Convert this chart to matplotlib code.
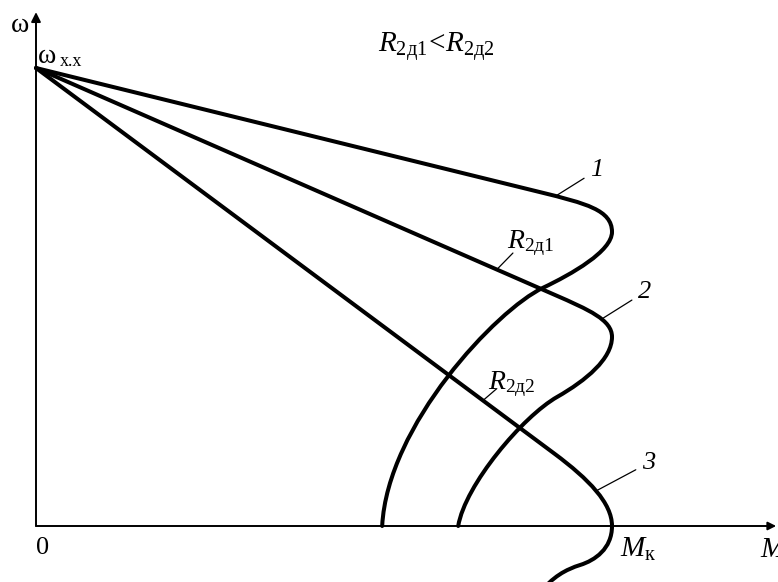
import numpy as np
import matplotlib.pyplot as plt
from matplotlib.path import Path
from matplotlib.patches import PathPatch

plt.rcParams['font.family'] = ['Liberation Serif', 'DejaVu Serif']
plt.rcParams['mathtext.fontset'] = 'custom'
plt.rcParams['mathtext.rm'] = 'Liberation Serif'
plt.rcParams['mathtext.it'] = 'Liberation Serif:italic'

# Относительные единицы: момент в долях M_к, скорость в долях ω_х.х
OMEGA_0 = 1.0
M_K = 1.0

# Характеристика 1 (естественная): прямой участок + изгиб + пусковая часть
curve1 = [(0.0, OMEGA_0), (0.875, 0.729),
          (0.955, 0.7042), (M_K, 0.69), (M_K, 0.642),
          (M_K, 0.60), (0.93, 0.55), (0.880, 0.520),
          (0.80, 0.472), (0.61, 0.22), (0.601, 0.0)]

# Характеристика 2 (R_2д1)
curve2 = [(0.0, OMEGA_0), (0.90, 0.505),
          (0.96, 0.472), (M_K, 0.45), (M_K, 0.413),
          (M_K, 0.365), (0.955, 0.318), (0.905, 0.282),
          (0.845, 0.239), (0.745, 0.09), (0.733, 0.0)]

# Характеристика 3 (R_2д2), M_к при ω = 0 и переход в тормозной режим
curve3 = [(0.0, OMEGA_0), (0.90, 0.158),
          (0.96, 0.1018), (M_K, 0.05), (M_K, 0.0),
          (M_K, -0.05), (0.97, -0.075), (0.945, -0.085),
          (0.92, -0.095), (0.897, -0.11), (0.872, -0.15)]

codes = [Path.MOVETO, Path.LINETO] + [Path.CURVE4] * 9


def bez(pts, i, t):
    # точка на кубическом сегменте, начинающемся с вершины i
    p0, p1, p2, p3 = [np.array(p) for p in pts[i:i + 4]]
    return tuple((1 - t) ** 3 * p0 + 3 * (1 - t) ** 2 * t * p1
                 + 3 * (1 - t) * t ** 2 * p2 + t ** 3 * p3)


fig = plt.figure(figsize=(7.78, 5.82), dpi=100)
ax = fig.add_axes([0, 0, 1, 1])
ax.set_xlim(-36 / 576, 742 / 576)
ax.set_ylim(-56 / 458, 526 / 458)
ax.axis('off')

# оси
ax.annotate('', xy=(0, 1.122), xytext=(0, 0),
            arrowprops=dict(arrowstyle='-|>', lw=1.4, color='k',
                            mutation_scale=14, shrinkA=0, shrinkB=0))
ax.annotate('', xy=(1.285, 0), xytext=(0, 0),
            arrowprops=dict(arrowstyle='-|>', lw=1.4, color='k',
                            mutation_scale=12, shrinkA=0, shrinkB=0))

for c in (curve1, curve2, curve3):
    ax.add_patch(PathPatch(Path(c, codes), fill=False, lw=2.9,
                           edgecolor='k', capstyle='round', joinstyle='round'))

lead = dict(arrowstyle='-', lw=0.9, color='k', shrinkA=3, shrinkB=0)
num = dict(fontsize=19, style='italic', ha='center', va='center')
ax.annotate('1', xy=bez(curve1, 1, 0.12), xytext=(0.974, 0.777),
            arrowprops=lead, **num)
ax.annotate('2', xy=bez(curve2, 1, 0.6), xytext=(1.057, 0.511),
            arrowprops=lead, **num)
ax.annotate('3', xy=bez(curve3, 1, 0.5), xytext=(1.064, 0.138),
            arrowprops=lead, **num)

# подписи сопротивлений на прямых участках
x_r1, x_r2 = 0.800, 0.776
y_r1 = OMEGA_0 + (curve2[1][1] - OMEGA_0) / curve2[1][0] * x_r1
y_r2 = OMEGA_0 + (curve3[1][1] - OMEGA_0) / curve3[1][0] * x_r2
tick = dict(arrowstyle='-', lw=0.9, color='k', shrinkA=0, shrinkB=0)
ax.annotate('', xy=(x_r1, y_r1), xytext=(0.828, 0.596), arrowprops=tick)
ax.annotate('', xy=(x_r2, y_r2), xytext=(0.800, 0.300), arrowprops=tick)
ax.text(0.818, 0.606, r'$R_{\mathrm{2д1}}$', fontsize=20,
        ha='left', va='baseline')
ax.text(0.784, 0.298, r'$R_{\mathrm{2д2}}$', fontsize=20,
        ha='left', va='baseline')

ax.text(0.594, 1.035, r'$R_{\mathrm{2д1}}\!<\!R_{\mathrm{2д2}}$', fontsize=21,
        ha='left', va='baseline')
ax.text(-0.027, 1.092, 'ω', fontsize=20, ha='center', va='center')
ax.text(0.003, 1.011, 'ω', fontsize=20, ha='left', va='baseline')
ax.text(0.042, 1.004, 'х.х', fontsize=13, ha='left', va='baseline')
ax.text(0.011, -0.048, '0', fontsize=19, ha='center', va='center')
ax.text(1.014, -0.068, r'$M_{\mathrm{к}}$', fontsize=21, ha='left',
        va='baseline')
ax.text(1.257, -0.068, r'$M$', fontsize=21, ha='left', va='baseline')

plt.savefig('out.png', dpi=100)
plt.close()
